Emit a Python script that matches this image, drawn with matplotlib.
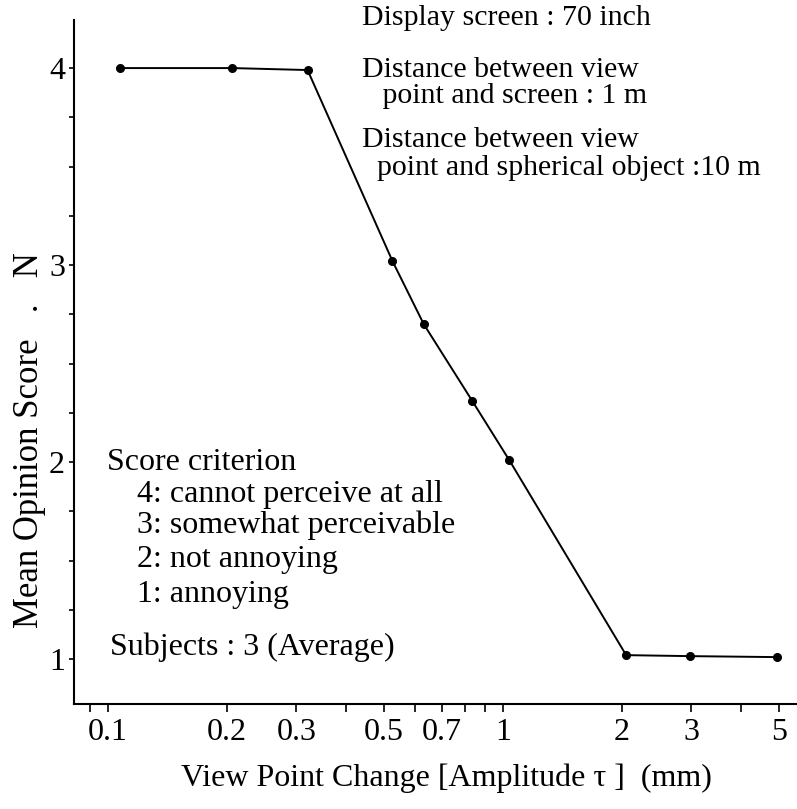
import matplotlib
matplotlib.use('Agg')
import matplotlib.pyplot as plt
from matplotlib.ticker import FixedLocator, FixedFormatter, NullFormatter

# values
amplitude = [0.107, 0.206, 0.32, 0.525, 0.63, 0.836, 1.037, 2.05, 2.97, 4.95]
score = [4.0, 4.0, 3.99, 3.02, 2.70, 2.31, 2.01, 1.02, 1.015, 1.01]

x_major = [0.1, 0.2, 0.3, 0.5, 0.7, 1, 2, 3, 5]
x_major_labels = ['0.1', '0.2', '0.3', '0.5', '0.7', '1', '2', '3', '5']
x_minor = [0.09, 0.4, 0.6, 0.8, 0.9, 4]
y_major = [1, 2, 3, 4]
y_major_labels = ['1', '2', '3', '4']
y_minor = [1.25, 1.5, 1.75, 2.25, 2.5, 2.75, 3.25, 3.5, 3.75]

conditions = ['Display screen : 70 inch',
              'Distance between view',
              ' point and screen : 1 m',
              'Distance between view',
              'point and spherical object :10 m']
criterion = ['Score criterion',
             '4: cannot perceive at all',
             '3: somewhat perceivable',
             '2: not annoying',
             '1: annoying',
             'Subjects : 3 (Average)']

plt.rcParams['font.family'] = ['Liberation Serif', 'DejaVu Serif']

W, H = 797, 809
fig = plt.figure(figsize=(W / 100, H / 100), dpi=100)
ax = fig.add_axes([74 / W, 1 - 704 / H, (W - 74) / W, (704 - 20) / H])


def px(x, y):
    # pixel position (from top left) -> figure fraction
    return x / W, 1 - y / H


ax.plot(amplitude, score, color='black', lw=1.4, marker='o', ms=5.5)

ax.set_xscale('log')
ax.set_xlim(0.082, 5.55)
ax.set_ylim(0.772, 4.244)

ax.xaxis.set_major_locator(FixedLocator(x_major))
ax.xaxis.set_major_formatter(FixedFormatter(x_major_labels))
ax.xaxis.set_minor_locator(FixedLocator(x_minor))
ax.xaxis.set_minor_formatter(NullFormatter())
ax.yaxis.set_major_locator(FixedLocator(y_major))
ax.yaxis.set_major_formatter(FixedFormatter(y_major_labels))
ax.yaxis.set_minor_locator(FixedLocator(y_minor))

ax.spines['top'].set_visible(False)
ax.spines['right'].set_visible(False)
for s in ['left', 'bottom']:
    ax.spines[s].set_linewidth(1.5)

ax.tick_params(axis='x', which='both', direction='out', length=6, width=1.2,
               labelsize=23, pad=4)
ax.tick_params(axis='y', which='both', direction='out', length=3.5, width=1.2,
               labelsize=23, pad=3)

# experiment conditions, top right
top_pos = [(362, 25), (362, 77), (375, 103), (362, 147), (377, 175)]
for txt, (x, y) in zip(conditions, top_pos):
    fig.text(*px(x, y), txt, fontsize=21.5, va='baseline', ha='left')

# score criterion, lower left
left_pos = [(107, 470), (137, 502), (137, 533), (137, 567), (137, 602), (110, 655)]
for txt, (x, y) in zip(criterion, left_pos):
    fig.text(*px(x, y), txt, fontsize=23, va='baseline', ha='left')

fig.text(*px(30, 440), 'Mean Opinion Score   .   N', fontsize=25, rotation=90,
         ha='center', va='center')
fig.text(*px(446, 778), 'View Point Change [Amplitude \u03c4 ]  (mm)', fontsize=23,
         ha='center', va='center')

fig.savefig('out.png', dpi=100)
